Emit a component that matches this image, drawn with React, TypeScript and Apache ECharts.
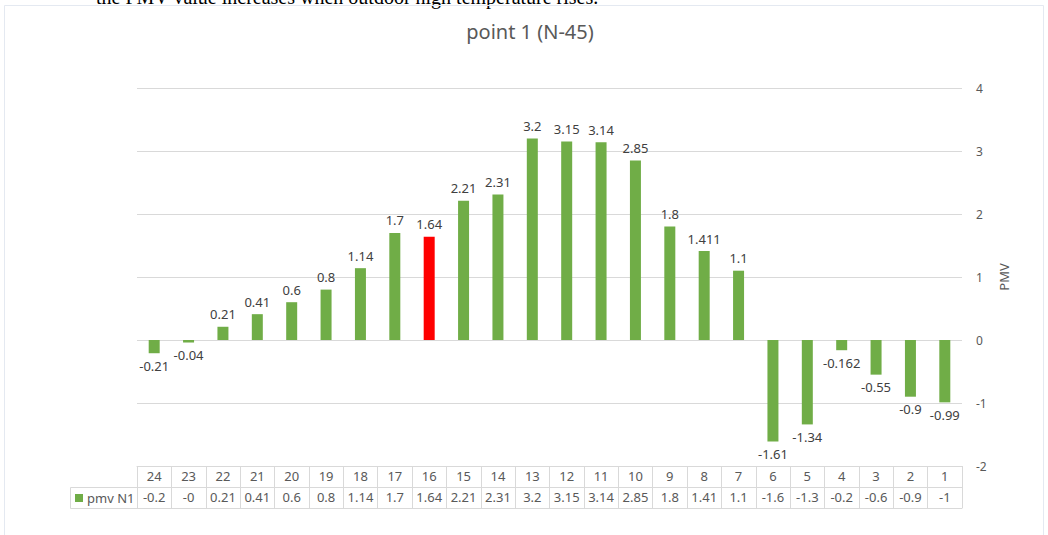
import React, { useEffect, useRef } from "react";
import * as echarts from "echarts";

const categories = ["24","23","22","21","20","19","18","17","16","15","14","13","12","11","10","9","8","7","6","5","4","3","2","1"];
const pmvValues = [-0.21,-0.04,0.21,0.41,0.6,0.8,1.14,1.7,1.64,2.21,2.31,3.2,3.15,3.14,2.85,1.8,1.411,1.1,-1.61,-1.34,-0.162,-0.55,-0.9,-0.99];
const tableValues = ["-0.2","-0","0.21","0.41","0.6","0.8","1.14","1.7","1.64","2.21","2.31","3.2","3.15","3.14","2.85","1.8","1.41","1.1","-1.6","-1.3","-0.2","-0.6","-0.9","-1"];
const highlightCategory = "16";
const yTicks = { min: -2, max: 4, interval: 1 };
const seriesName = "pmv N1";
const titleText = "point 1 (N-45)";
const axisName = "PMV";
const topLine = "the PMV value increases when outdoor high temperature rises.";

const GREEN = "#70AD47";
const RED = "#FF0000";
const GRID = "#d9d9d9";
const TEXT = "#595959";
const FONT = "'Noto Sans', 'Open Sans', sans-serif";

export default function App() {
  const ref = useRef<HTMLDivElement>(null);
  useEffect(() => {
    if (!ref.current) return;
    const chart = echarts.init(ref.current, null, { renderer: "svg" });
    const left = 137, right = 86, top = 88, bottom = 69;
    const tableTop = 535 - bottom;
    const row = 21;
    chart.setOption({
      animation: false,
      textStyle: { fontFamily: FONT },
      title: {
        text: titleText,
        left: 525,
        textAlign: "center",
        top: 16,
        textStyle: { fontSize: 20, fontWeight: "normal", color: TEXT, fontFamily: FONT },
      },
      grid: { left, right, top, bottom },
      xAxis: [
        {
          type: "category",
          data: categories,
          position: "bottom",
          axisLine: { show: true, onZero: false, lineStyle: { color: GRID } },
          axisTick: { show: true, length: row * 2, lineStyle: { color: GRID } },
          axisLabel: { color: TEXT, fontSize: 13, margin: 3, interval: 0 },
        },
        {
          type: "category",
          data: tableValues,
          position: "bottom",
          offset: row,
          axisLine: { show: true, onZero: false, lineStyle: { color: GRID } },
          axisTick: { show: false },
          axisLabel: { color: TEXT, fontSize: 13, margin: 3, interval: 0 },
        },
        {
          type: "category",
          data: categories,
          position: "bottom",
          offset: row * 2,
          axisLine: { show: true, onZero: false, lineStyle: { color: GRID } },
          axisTick: { show: false },
          axisLabel: { show: false },
        },
      ],
      yAxis: {
        type: "value",
        position: "right",
        min: yTicks.min,
        max: yTicks.max,
        interval: yTicks.interval,
        name: axisName,
        nameLocation: "middle",
        nameGap: 31,
        nameRotate: 90,
        nameTextStyle: { color: TEXT, fontSize: 13 },
        axisLine: { show: false },
        axisTick: { show: false },
        axisLabel: { color: TEXT, fontSize: 12, margin: 14 },
        splitLine: { lineStyle: { color: GRID } },
      },
      series: [
        {
          name: seriesName,
          type: "bar",
          xAxisIndex: 0,
          barWidth: "32%",
          data: pmvValues.map((v, i) => ({
            value: v,
            itemStyle: { color: categories[i] === highlightCategory ? RED : GREEN },
            label: { position: v < 0 ? "bottom" : "top" },
          })),
          label: {
            show: true,
            color: "#404040",
            fontSize: 13,
            distance: 6,
            formatter: (p: any) => String(p.value),
          },
        },
      ],
      graphic: [
        {
          type: "text",
          left: 96,
          top: -13,
          style: { text: topLine, font: "20px 'Liberation Serif', serif", fill: "#000" },
        },
        {
          type: "rect",
          shape: { x: 4.5, y: 5.5, width: 1039, height: 560 },
          style: { fill: "none", stroke: "#e4e9f1", lineWidth: 1 },
          silent: true,
        },
        {
          type: "rect",
          shape: { x: 70.5, y: tableTop + row + 0.5, width: left - 70, height: row },
          style: { fill: "none", stroke: GRID, lineWidth: 1 },
        },
        {
          type: "rect",
          shape: { x: 75, y: tableTop + row + 7, width: 8, height: 8 },
          style: { fill: GREEN },
        },
        {
          type: "text",
          x: 87,
          y: tableTop + row + 11,
          style: { text: seriesName, fill: TEXT, font: `13px ${FONT}`, verticalAlign: "middle" },
        },
      ],
    });
    return () => chart.dispose();
  }, []);
  return (
    <div
      ref={ref}
      style={{ position: "absolute", left: 0, top: 0, width: 1048, height: 535, background: "#fff" }}
    />
  );
}
